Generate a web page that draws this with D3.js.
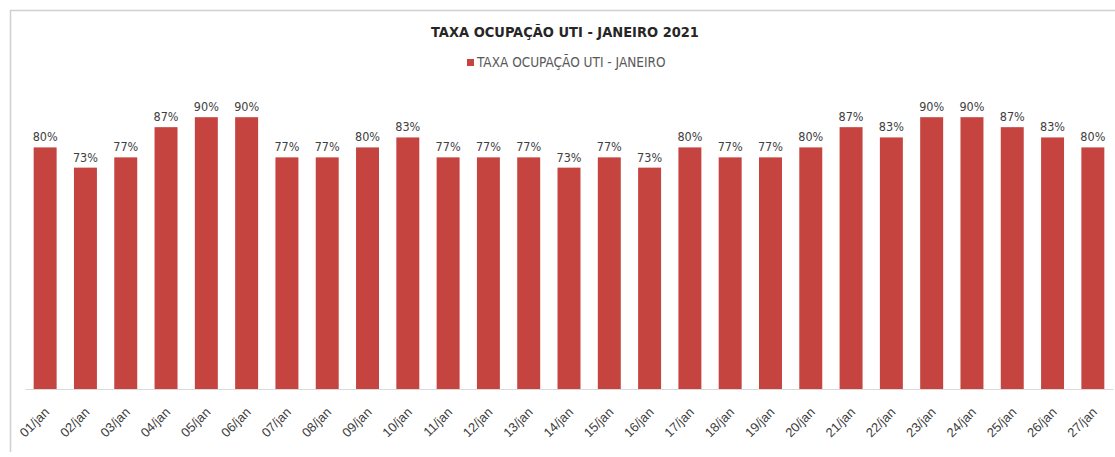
<!DOCTYPE html>
<html>
<head>
<meta charset="utf-8">
<script src="https://cdn.jsdelivr.net/npm/d3@7"></script>
<style>
  body { margin: 0; background: #fff; }
  svg { display: block; font-family: "Liberation Sans Narrow", "DejaVu Sans Condensed", "Liberation Sans", sans-serif; }
</style>
</head>
<body>
<script>
// dias de janeiro e taxa de ocupação (%)
const days = ["01/jan","02/jan","03/jan","04/jan","05/jan","06/jan","07/jan","08/jan","09/jan","10/jan",
  "11/jan","12/jan","13/jan","14/jan","15/jan","16/jan","17/jan","18/jan","19/jan","20/jan",
  "21/jan","22/jan","23/jan","24/jan","25/jan","26/jan","27/jan"];
const rates = [80, 73.3, 76.7, 86.7, 90, 90, 76.7, 76.7, 80, 83.3,
  76.7, 76.7, 76.7, 73.3, 76.7, 73.3, 80, 76.7, 76.7, 80,
  86.7, 83.3, 90, 90, 86.7, 83.3, 80];
const title = "TAXA OCUPAÇÃO UTI - JANEIRO 2021";
const seriesName = "TAXA OCUPAÇÃO UTI - JANEIRO";

const W = 1115, H = 457;
const baseY = 389, topY = 87;
const barColor = "#c6443f";

const svg = d3.select("body").append("svg")
  .attr("width", W)
  .attr("height", H);

// chart frame (top and left edges visible)
svg.append("path")
  .attr("d", "M10.5,452 V10.5 H1115")
  .attr("fill", "none")
  .attr("stroke", "#d0d0d0")
  .attr("stroke-width", 1.5);

svg.append("text")
  .attr("x", 565).attr("y", 37)
  .attr("text-anchor", "middle")
  .attr("font-size", 14.5).attr("font-weight", "bold")
  .attr("fill", "#262626")
  .text(title);

// legend
svg.append("rect")
  .attr("x", 467).attr("y", 59).attr("width", 7).attr("height", 7)
  .attr("fill", barColor);
svg.append("text")
  .attr("x", 477).attr("y", 67)
  .attr("font-size", 13.5)
  .attr("fill", "#595959")
  .text(seriesName);

const x = d3.scaleBand()
  .domain(days)
  .range([25, 1113])
  .paddingInner(0.43)
  .paddingOuter(0.215);

const y = d3.scaleLinear()
  .domain([0, 100])
  .range([baseY, topY]);

svg.selectAll("rect.bar")
  .data(days)
  .enter()
  .append("rect")
  .attr("class", "bar")
  .attr("x", d => x(d))
  .attr("y", (d, i) => y(rates[i]))
  .attr("width", x.bandwidth())
  .attr("height", (d, i) => baseY - y(rates[i]))
  .attr("fill", barColor);

svg.selectAll("text.lbl")
  .data(days)
  .enter()
  .append("text")
  .attr("class", "lbl")
  .attr("x", d => x(d) + x.bandwidth() / 2)
  .attr("y", (d, i) => y(rates[i]) - 6)
  .attr("text-anchor", "middle")
  .attr("font-size", 12.5)
  .attr("fill", "#404040")
  .text((d, i) => Math.round(rates[i]) + "%");

// x axis
const xAxis = d3.axisBottom(x).tickSize(0).tickPadding(0);
const gx = svg.append("g")
  .attr("transform", "translate(0," + baseY + ")")
  .call(xAxis);
gx.select(".domain").attr("stroke", "#d9d9d9").attr("stroke-width", 1.2);
gx.selectAll(".tick text")
  .attr("font-family", null)
  .attr("font-size", 13)
  .attr("fill", "#404040")
  .attr("text-anchor", "end")
  .attr("dy", null)
  .attr("y", null)
  .attr("transform", "translate(5,24) rotate(-45)");
</script>
</body>
</html>
